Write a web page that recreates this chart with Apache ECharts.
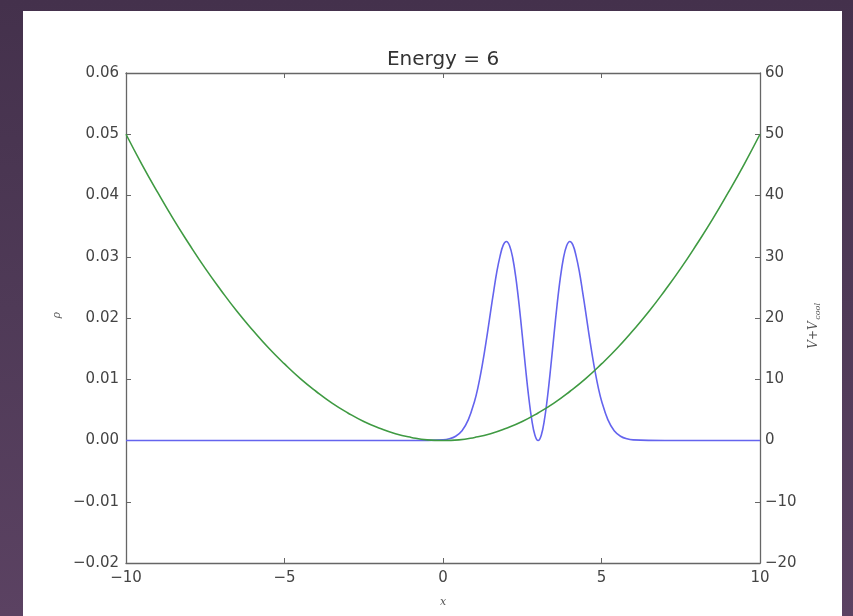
<!DOCTYPE html>
<html>
<head>
<meta charset="utf-8">
<script src="https://cdn.jsdelivr.net/npm/echarts@6/dist/echarts.min.js"></script>
<style>
  html, body { margin: 0; padding: 0; }
  body {
    width: 853px; height: 616px; overflow: hidden; position: relative;
    background: linear-gradient(180deg, #44314c 0%, #4f3a57 50%, #5b4262 100%);
  }
  #panel { position: absolute; left: 23px; top: 11px; width: 819px; height: 605px; background: #fff; }
  #chart { position: absolute; left: 0; top: 0; width: 853px; height: 616px; }
</style>
</head>
<body>
<div id="panel"></div>
<div id="chart"></div>
<script>
// Harmonic potential V + V_cool sampled along x (right axis)
const potX = [-10, -9.5, -9, -8.5, -8, -7.5, -7, -6.5, -6, -5.5, -5, -4.5, -4, -3.5, -3, -2.5, -2, -1.5, -1, -0.5,
              0, 0.5, 1, 1.5, 2, 2.5, 3, 3.5, 4, 4.5, 5, 5.5, 6, 6.5, 7, 7.5, 8, 8.5, 9, 9.5, 10];
const potV = [50, 45.1, 40.5, 36.1, 32, 28.1, 24.5, 21.1, 18, 15.1, 12.5, 10.1, 8, 6.1, 4.5, 3.1, 2, 1.1, 0.5, 0.1,
              0, 0.1, 0.5, 1.1, 2, 3.1, 4.5, 6.1, 8, 10.1, 12.5, 15.1, 18, 21.1, 24.5, 28.1, 32, 36.1, 40.5, 45.1, 50];

// Density rho along x (left axis): flat outside [0, 6], two lobes at x = 2 and x = 4
const rhoX = [-10, -1, 0, 0.2, 0.4, 0.6, 0.8, 1.0, 1.1, 1.2, 1.3, 1.4, 1.5, 1.6, 1.7, 1.8, 1.9, 2.0,
              2.1, 2.2, 2.3, 2.4, 2.5, 2.6, 2.7, 2.8, 2.9, 3.0, 3.1, 3.2, 3.3, 3.4, 3.5, 3.6, 3.7, 3.8, 3.9,
              4.0, 4.1, 4.2, 4.3, 4.4, 4.5, 4.6, 4.7, 4.8, 4.9, 5.0, 5.2, 5.4, 5.6, 5.8, 6.0, 7, 10];
const rhoV = [0, 0, 0.0001, 0.00027, 0.0007, 0.0016, 0.0034, 0.0065, 0.0086, 0.0112, 0.0142, 0.0175, 0.0210, 0.0244,
              0.0276, 0.0301, 0.0319, 0.0325, 0.0318, 0.0298, 0.0265, 0.0222, 0.0172, 0.01204, 0.00727, 0.0034,
              0.00087, 0, 0.00087, 0.0034, 0.00727, 0.01204, 0.0172, 0.0222, 0.0265, 0.0298, 0.0318, 0.0325,
              0.0319, 0.0301, 0.0276, 0.0244, 0.0210, 0.0175, 0.0142, 0.0112, 0.0086, 0.0065, 0.0034, 0.0016,
              0.0007, 0.00027, 0.0001, 0, 0];

const xTicks = [-10, -5, 0, 5, 10];
const leftTicks = [-0.02, -0.01, 0, 0.01, 0.02, 0.03, 0.04, 0.05, 0.06];
const rightTicks = [-20, -10, 0, 10, 20, 30, 40, 50, 60];

const chartTitle = 'Energy = 6';
const FONT = 'DejaVu Sans';
const TXT = '#444';
const FRAME = '#666';

const fmtMinus = (s) => String(s).replace('-', '\u2212');

const axisCommon = {
  axisLine: { show: true, onZero: false, lineStyle: { color: FRAME, width: 1.3 } },
  axisTick: { show: true, inside: true, length: 5, lineStyle: { color: FRAME, width: 1 } },
  splitLine: { show: false },
  axisLabel: { color: TXT, fontFamily: FONT, fontSize: 15 }
};

const chart = echarts.init(document.getElementById('chart'));
chart.setOption({
  animation: false,
  grid: { left: 126, right: 93, top: 73, bottom: 53 },
  xAxis: [
    Object.assign({}, axisCommon, {
      type: 'value', min: xTicks[0], max: xTicks[xTicks.length - 1], interval: 5, position: 'bottom',
      axisLabel: Object.assign({}, axisCommon.axisLabel, { margin: 8, formatter: (v) => fmtMinus(v) })
    }),
    Object.assign({}, axisCommon, {
      type: 'value', min: xTicks[0], max: xTicks[xTicks.length - 1], interval: 5, position: 'top',
      axisLabel: { show: false }
    })
  ],
  yAxis: [
    Object.assign({}, axisCommon, {
      type: 'value', min: leftTicks[0], max: leftTicks[leftTicks.length - 1], interval: 0.01, position: 'left',
      axisLabel: Object.assign({}, axisCommon.axisLabel, { margin: 7, formatter: (v) => fmtMinus(v.toFixed(2)) })
    }),
    Object.assign({}, axisCommon, {
      type: 'value', min: rightTicks[0], max: rightTicks[rightTicks.length - 1], interval: 10, position: 'right',
      axisLabel: Object.assign({}, axisCommon.axisLabel, { margin: 5, formatter: (v) => fmtMinus(v) })
    })
  ],
  series: [
    {
      type: 'line', xAxisIndex: 0, yAxisIndex: 0, showSymbol: false, smooth: 0.4, z: 2,
      data: rhoX.map((x, i) => [x, rhoV[i]]),
      lineStyle: { color: '#6464ee', width: 1.6 }
    },
    {
      type: 'line', xAxisIndex: 0, yAxisIndex: 1, showSymbol: false, smooth: true, z: 3,
      data: potX.map((x, i) => [x, potV[i]]),
      lineStyle: { color: '#3f9a42', width: 1.6 }
    }
  ],
  graphic: [
    // title centred over the plot area
    { type: 'text', x: 443, y: 70,
      style: { text: chartTitle, font: '20px "DejaVu Sans"', fill: '#333', textAlign: 'center', textVerticalAlign: 'bottom' } },
    { type: 'text', left: 52, top: 312, rotation: Math.PI / 2,
      style: { text: '\u03c1', font: 'italic 11px "DejaVu Serif"', fill: '#555' } },
    { type: 'text', left: 440, top: 597,
      style: { text: 'x', font: 'italic 11px "DejaVu Serif"', fill: '#555' } },
    { type: 'group', left: 808, top: 303, rotation: Math.PI / 2,
      children: [
        { type: 'text', x: 0, y: 0, style: { text: 'V+V', font: 'italic 12px "DejaVu Serif"', fill: '#555' } },
        { type: 'text', x: 29, y: 6, style: { text: 'cool', font: 'italic 8px "DejaVu Serif"', fill: '#555' } }
      ]
    }
  ]
});
</script>
</body>
</html>
